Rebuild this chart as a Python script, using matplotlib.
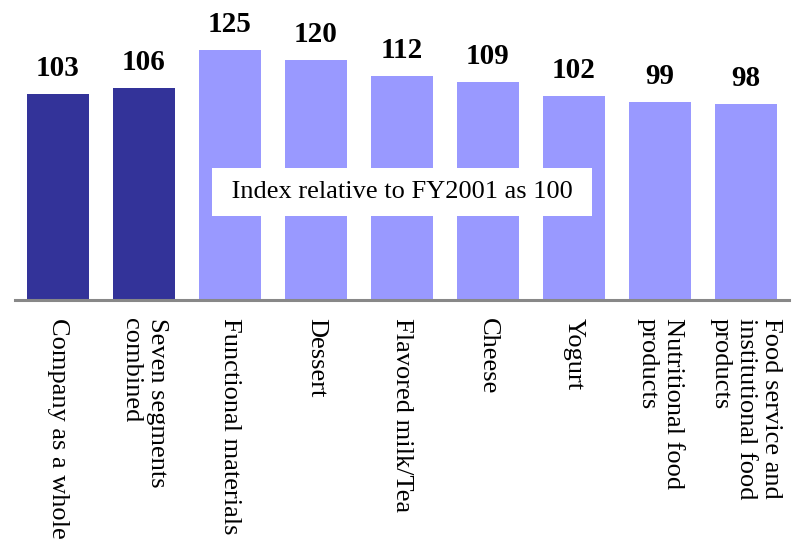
import matplotlib
matplotlib.use('Agg')
import matplotlib.pyplot as plt

plt.rcParams['font.family'] = ['Liberation Serif', 'DejaVu Serif']

categories = [
    "Company as a whole",
    "Seven segments\ncombined",
    "Functional materials",
    "Dessert",
    "Flavored milk/Tea",
    "Cheese",
    "Yogurt",
    "Nutritional food\nproducts",
    "Food service and\ninstitutional food\nproducts",
]
values = [103, 106, 125, 120, 112, 109, 102, 99, 98]
bar_colors = ['#333399', '#333399'] + ['#9999FF'] * 7
note = "Index relative to FY2001 as 100"

fig = plt.figure(figsize=(8.02, 5.40), dpi=100)
ax = fig.add_axes([15 / 802, 240 / 540, 774 / 802, 300 / 540])

x = range(len(categories))
bars = ax.bar(x, values, width=0.72, color=bar_colors, zorder=2)
ax.bar_label(bars, labels=[str(v) for v in values], padding=9,
             fontsize=21, fontweight='bold')

ax.set_xlim(-0.5, 8.5)
ax.set_ylim(0, 150)
ax.set_xticks(list(x))
ax.set_xticklabels(categories, rotation=270, fontsize=19,
                   ha='center', va='top', multialignment='left')
ax.tick_params(axis='x', length=0, pad=13)
ax.set_yticks([])

for side in ['top', 'left', 'right']:
    ax.spines[side].set_visible(False)
ax.spines['bottom'].set_color('#888888')
ax.spines['bottom'].set_linewidth(2.2)
ax.spines['bottom'].set_zorder(3)

ax.text(4.0, 54, " " + note + " ", ha='center', va='center', fontsize=19,
        zorder=4, bbox=dict(boxstyle='square,pad=0.5', fc='white', ec='none'))

fig.savefig('out.png', dpi=100, facecolor='white')
